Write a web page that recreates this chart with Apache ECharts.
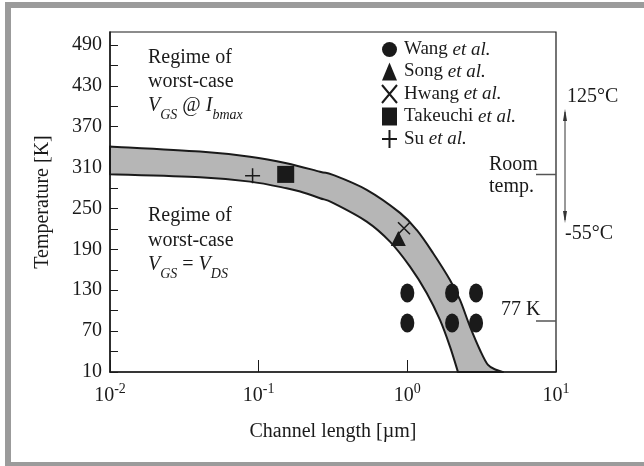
<!DOCTYPE html>
<html>
<head>
<meta charset="utf-8">
<script src="https://cdn.jsdelivr.net/npm/echarts@6/dist/echarts.min.js"></script>
<style>
html, body { margin: 0; padding: 0; background: #fff; }
#main { width: 644px; height: 466px; }
</style>
</head>
<body>
<div id="main"></div>
<script>
// upper and lower edge of the grey band (channel length in um, temperature in K)
var upperL = [0.01, 0.0403, 0.0875, 0.154, 0.2585, 0.316, 0.533, 0.893, 1.156, 1.488, 1.936, 2.26, 2.64, 3.08, 3.49, 3.99, 4.40];
var upperT = [341, 333.5, 326, 316.5, 304, 299.3, 277.3, 243.5, 218.5, 184.7, 145, 115.7, 76.5, 42.3, 20.3, 12.9, 10];
var lowerL = [0.01, 0.0403, 0.0875, 0.154, 0.19, 0.2585, 0.316, 0.533, 0.764, 1.042, 1.349, 1.658, 1.936, 2.19];
var lowerT = [300.3, 295.9, 289.4, 279.7, 274.8, 265.1, 258.2, 230.7, 201.3, 164.6, 126, 86.4, 47.2, 10];

// measured points
var wangL = [1, 1, 2, 2, 2.9, 2.9];
var wangT = [126, 82, 126, 82, 126, 82];
var songL = [0.87];
var songT = [206];
var hwangL = [0.95];
var hwangT = [221];
var takeuchiL = [0.152];
var takeuchiT = [300];
var suL = [0.091];
var suT = [298];

var yTicks = [10, 40, 70, 100, 130, 160, 190, 220, 250, 280, 310, 340, 370, 400, 430, 460, 490];
var yLabels = [10, 70, 130, 190, 250, 310, 370, 430, 490];

var FONT = '"Liberation Serif", "DejaVu Serif", serif';
var INK = '#1a1a1a';

function pairs(xs, ys) {
    var out = [];
    for (var i = 0; i < xs.length; i++) out.push([xs[i], ys[i]]);
    return out;
}

// catmull-rom through pixel points -> bezier segments (no leading M)
function smoothSegs(p) {
    var s = '';
    for (var i = 0; i < p.length - 1; i++) {
        var p0 = p[i - 1] || p[i], p1 = p[i], p2 = p[i + 1], p3 = p[i + 2] || p[i + 1];
        var c1x = p1[0] + (p2[0] - p0[0]) / 6, c1y = p1[1] + (p2[1] - p0[1]) / 6;
        var c2x = p2[0] - (p3[0] - p1[0]) / 6, c2y = p2[1] - (p3[1] - p1[1]) / 6;
        s += 'C' + c1x + ',' + c1y + ',' + c2x + ',' + c2y + ',' + p2[0] + ',' + p2[1];
    }
    return s;
}

var myChart = echarts.init(document.getElementById('main'), null, {renderer: 'canvas'});

var legendRich = {
    n: {fontFamily: FONT, fontSize: 19, color: INK},
    i: {fontFamily: FONT, fontSize: 19, color: INK, fontStyle: 'italic'}
};
var subRich = {
    v: {fontFamily: FONT, fontSize: 20, fontStyle: 'italic', fill: INK, lineHeight: 26, verticalAlign: 'top'},
    n: {fontFamily: FONT, fontSize: 20, fill: INK, lineHeight: 26, verticalAlign: 'top'},
    s: {fontFamily: FONT, fontSize: 14, fontStyle: 'italic', fill: INK, lineHeight: 16, verticalAlign: 'bottom'}
};

var option = {
    backgroundColor: '#fff',
    animation: false,
    grid: {
        left: 110,
        right: 88,
        top: 32,
        bottom: 94,
        show: true,
        borderColor: INK,
        borderWidth: 1.2
    },
    legend: {
        orient: 'vertical',
        left: 376,
        top: 35,
        itemGap: 3,
        itemWidth: 15,
        itemHeight: 18,
        symbolKeepAspect: false,
        data: ['Wang et al.', 'Song et al.', 'Hwang et al.', 'Takeuchi et al.', 'Su et al.'],
        formatter: function (name) {
            return '{n|' + name.replace(' et al.', '') + ' }{i|et al.}';
        },
        textStyle: {rich: legendRich, padding: [0, 0, 0, 2]}
    },
    xAxis: {
        type: 'log',
        logBase: 10,
        min: 0.01,
        max: 10,
        name: 'Channel length [\u00b5m]',
        nameLocation: 'middle',
        nameGap: 50,
        nameTextStyle: {fontFamily: FONT, fontSize: 20, color: INK},
        axisLine: {lineStyle: {color: INK, width: 1.5}},
        axisTick: {inside: true, length: 12, lineStyle: {color: INK}},
        splitLine: {show: false},
        axisLabel: {
            margin: 10,
            showMinLabel: true,
            showMaxLabel: true,
            formatter: function (v) {
                var e = Math.round(Math.log(v) / Math.LN10);
                return '{b|10}{s|' + e + '}';
            },
            rich: {
                b: {fontFamily: FONT, fontSize: 20, color: INK, lineHeight: 24, verticalAlign: 'bottom'},
                s: {fontFamily: FONT, fontSize: 14, color: INK, lineHeight: 14, verticalAlign: 'top'}
            }
        }
    },
    yAxis: {
        type: 'value',
        min: 10,
        max: 509,
        name: 'Temperature [K]',
        nameLocation: 'middle',
        nameGap: 57,
        nameTextStyle: {fontFamily: FONT, fontSize: 20, color: INK},
        axisLine: {show: true, lineStyle: {color: INK, width: 1.5}},
        axisTick: {inside: true, length: 8, customValues: yTicks, lineStyle: {color: INK}},
        splitLine: {show: false},
        axisLabel: {
            customValues: yLabels,
            margin: 8,
            fontFamily: FONT,
            fontSize: 20,
            color: INK
        }
    },
    series: [
        {
            name: 'band',
            type: 'custom',
            silent: true,
            z: 1,
            data: [[0.01, 10]],
            renderItem: function (params, api) {
                var up = pairs(upperL, upperT).map(function (p) { return api.coord(p); });
                var lo = pairs(lowerL, lowerT).reverse().map(function (p) { return api.coord(p); });
                var d = 'M' + up[0][0] + ',' + up[0][1] + smoothSegs(up) +
                    'L' + lo[0][0] + ',' + lo[0][1] + smoothSegs(lo) + 'Z';
                return {
                    type: 'path',
                    shape: {pathData: d},
                    style: {fill: '#b6b6b6', stroke: INK, lineWidth: 2, lineJoin: 'round'}
                };
            }
        },
        {
            name: 'Wang et al.',
            type: 'scatter',
            z: 3,
            symbol: 'circle',
            symbolSize: [14, 19],
            itemStyle: {color: INK, opacity: 1},
            data: pairs(wangL, wangT)
        },
        {
            name: 'Song et al.',
            type: 'scatter',
            z: 3,
            symbol: 'triangle',
            symbolSize: 15,
            itemStyle: {color: INK, opacity: 1},
            data: pairs(songL, songT)
        },
        {
            name: 'Hwang et al.',
            type: 'scatter',
            z: 4,
            symbol: 'path://M0,0L10,10M10,0L0,10',
            symbolSize: 12,
            itemStyle: {color: INK, borderColor: INK, borderWidth: 1.6, opacity: 1},
            data: pairs(hwangL, hwangT)
        },
        {
            name: 'Takeuchi et al.',
            type: 'scatter',
            z: 3,
            symbol: 'rect',
            symbolSize: 17,
            itemStyle: {color: INK, opacity: 1},
            data: pairs(takeuchiL, takeuchiT)
        },
        {
            name: 'Su et al.',
            type: 'scatter',
            z: 3,
            symbol: 'path://M0,5L10,5M5,0L5,10',
            symbolSize: 15,
            itemStyle: {color: INK, borderColor: INK, borderWidth: 1.5, opacity: 1},
            data: pairs(suL, suT)
        }
    ],
    graphic: [
        // grey frame round the figure
        {type: 'rect', shape: {x: 5, y: 2, width: 6, height: 464}, style: {fill: '#9b9b9b'}, silent: true},
        {type: 'rect', shape: {x: 5, y: 2, width: 639, height: 6}, style: {fill: '#9b9b9b'}, silent: true},
        {type: 'rect', shape: {x: 5, y: 462, width: 639, height: 4}, style: {fill: '#9b9b9b'}, silent: true},

        // regime labels
        {type: 'text', left: 148, top: 48, style: {text: 'Regime of', font: '20px ' + FONT, fill: INK}},
        {type: 'text', left: 148, top: 72, style: {text: 'worst-case', font: '20px ' + FONT, fill: INK}},
        {type: 'text', left: 148, top: 96, style: {text: '{v|V}{s|GS}{n| @ }{v|I}{s|bmax}', rich: subRich}},
        {type: 'text', left: 148, top: 206, style: {text: 'Regime of', font: '20px ' + FONT, fill: INK}},
        {type: 'text', left: 148, top: 231, style: {text: 'worst-case', font: '20px ' + FONT, fill: INK}},
        {type: 'text', left: 148, top: 255, style: {text: '{v|V}{s|GS}{n| = }{v|V}{s|DS}', rich: subRich}},

        // right-hand temperature marks
        {type: 'text', left: 489, top: 155, style: {text: 'Room', font: '20px ' + FONT, fill: INK}},
        {type: 'text', left: 489, top: 177, style: {text: 'temp.', font: '20px ' + FONT, fill: INK}},
        {type: 'line', shape: {x1: 536, y1: 174.5, x2: 556, y2: 174.5}, style: {stroke: '#555', lineWidth: 1.5}},
        {type: 'text', left: 501, top: 300, style: {text: '77 K', font: '20px ' + FONT, fill: INK}},
        {type: 'line', shape: {x1: 536, y1: 321, x2: 556, y2: 321}, style: {stroke: '#555', lineWidth: 1.5}},
        {type: 'text', left: 567, top: 87, style: {text: '125\u00b0C', font: '20px ' + FONT, fill: INK}},
        {type: 'text', left: 565, top: 224, style: {text: '-55\u00b0C', font: '20px ' + FONT, fill: INK}},
        {type: 'line', shape: {x1: 565, y1: 112, x2: 565, y2: 220}, style: {stroke: '#333', lineWidth: 1}},
        {type: 'polygon', shape: {points: [[565, 109], [563, 121], [567, 121]]}, style: {fill: '#333'}},
        {type: 'polygon', shape: {points: [[565, 223], [563, 211], [567, 211]]}, style: {fill: '#333'}}
    ]
};

myChart.setOption(option);
</script>
</body>
</html>
